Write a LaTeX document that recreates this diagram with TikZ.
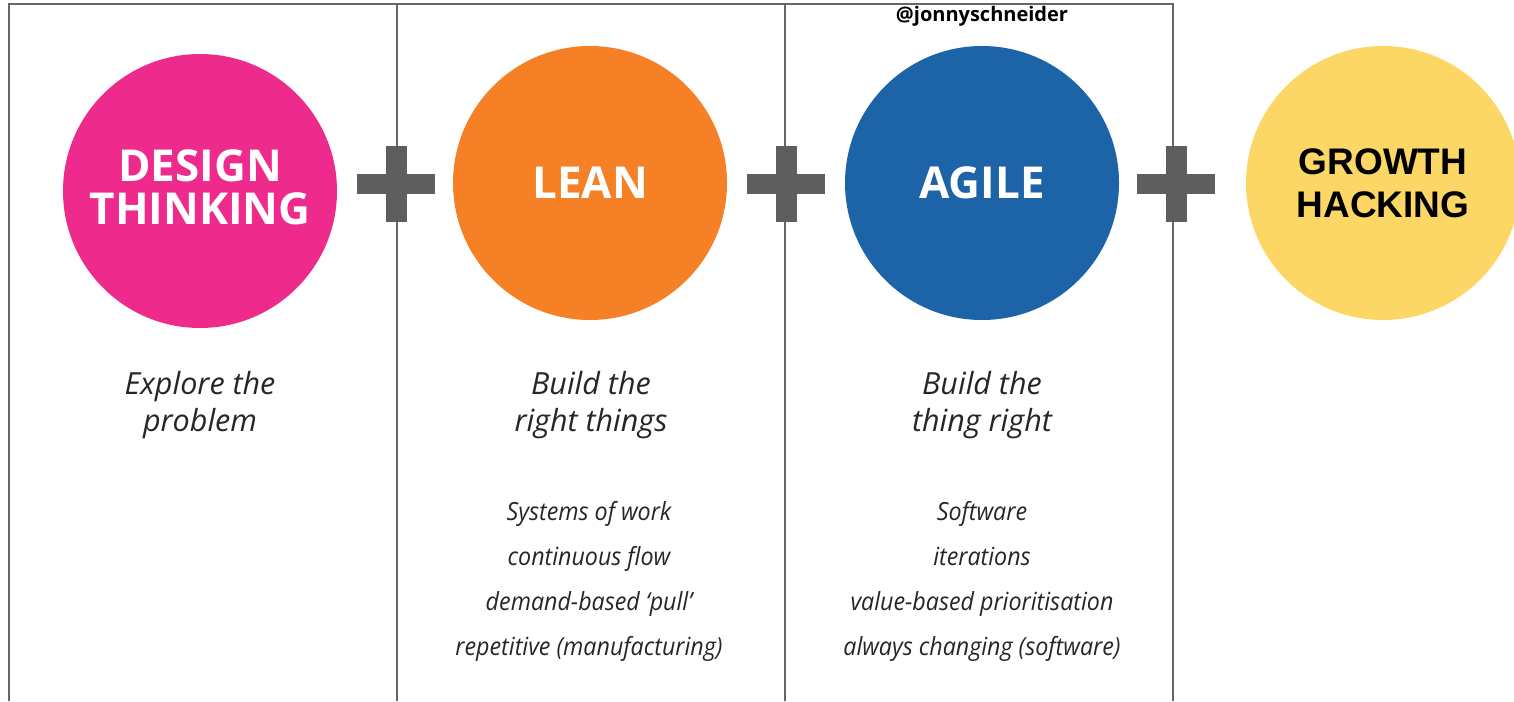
\documentclass[tikz,border=0pt]{standalone}
\usepackage{fontspec}
\setmainfont{Open Sans}
\newfontfamily\arialfont{Liberation Sans}
\definecolor{dtpink}{HTML}{EE2A8C}
\definecolor{leanorange}{HTML}{F58025}
\definecolor{agileblue}{HTML}{1C63A8}
\definecolor{growthyellow}{HTML}{FDD766}
\definecolor{plusgray}{HTML}{5E5E5E}
\definecolor{framegray}{HTML}{666666}
\newcommand{\condensed}[1]{\scalebox{0.93}[1]{#1}}
\tikzset{
  framestyle/.style={draw=framegray, line width=2pt},
  bigcircle/.style={circle, minimum size=274pt, inner sep=0pt, align=center},
  titlefont/.style={font=\fontsize{44}{43}\selectfont\bfseries, text=white},
  vbar/.style={fill=plusgray, minimum width=21pt, minimum height=76pt, inner sep=0pt},
  hbar/.style={fill=plusgray, minimum width=78pt, minimum height=20pt, inner sep=0pt},
  caption/.style={font=\fontsize{30.5}{36.5}\selectfont\itshape, text=black!85, align=center, anchor=base},
  listitem/.style={font=\fontsize{25}{30}\selectfont\itshape, text=black!85, anchor=base},
}
\begin{document}
\begin{tikzpicture}[x=1pt,y=-1pt]
\useasboundingbox (0,0) rectangle (1514,701);
\clip (0,0) rectangle (1514,701);
% frame
\coordinate (fl) at (9,701);
\coordinate (ftl) at (9,4);
\coordinate (ftr) at (1173,4);
\coordinate (fr) at (1173,701);
\coordinate (d1t) at (397,4);
\coordinate (d1b) at (397,701);
\coordinate (d2t) at (785,4);
\coordinate (d2b) at (785,701);
\draw[framestyle] (fl) -- (ftl) -- (ftr) -- (fr);
\draw[framestyle] (d1t) -- (d1b);
\draw[framestyle] (d2t) -- (d2b);
% circles
\node[bigcircle, fill=dtpink] (dt) at (200,191) {};
\node[titlefont, align=center, inner sep=0pt] (dtt) at ([yshift=4pt]dt.center) {DESIGN\\THINKING};
\node[bigcircle, fill=leanorange, titlefont] (lean) at (590,183) {LEAN};
\node[bigcircle, fill=agileblue, titlefont] (agile) at (982,183) {AGILE};
\node[bigcircle, fill=growthyellow, font=\arialfont\fontsize{37}{43}\selectfont\bfseries] (growth) at (1383,183) {GROWTH\\HACKING};
% plus signs
\foreach \px/\nm in {396/p1, 786/p2, 1176/p3} {
  \node[vbar] (\nm v) at (\px,184) {};
  \node[hbar] (\nm h) at (\px,184) {};
}
% watermark
\node[font=\fontsize{20}{22}\selectfont\bfseries, anchor=base] (handle) at (982,22) {@jonnyschneider};
% captions (base anchor = last line baseline)
\node[caption] (c1) at (200,431) {Explore the\\problem};
\node[caption] (c2) at (591,431) {Build the\\right things};
\node[caption] (c3) at (982,431) {Build the\\thing right};
% lists
\node[listitem] (l1a) at (589,520) {\condensed{Systems of work}};
\node[listitem] (l1b) at (589,565) {\condensed{continuous flow}};
\node[listitem] (l1c) at (589,610) {\condensed{demand-based ‘pull’}};
\node[listitem] (l1d) at (589,655) {\condensed{repetitive (manufacturing)}};
\node[listitem] (l2a) at (982,520) {\condensed{Software}};
\node[listitem] (l2b) at (982,565) {\condensed{iterations}};
\node[listitem] (l2c) at (982,610) {\condensed{value-based prioritisation}};
\node[listitem] (l2d) at (982,655) {\condensed{always changing (software)}};
\end{tikzpicture}
\end{document}
